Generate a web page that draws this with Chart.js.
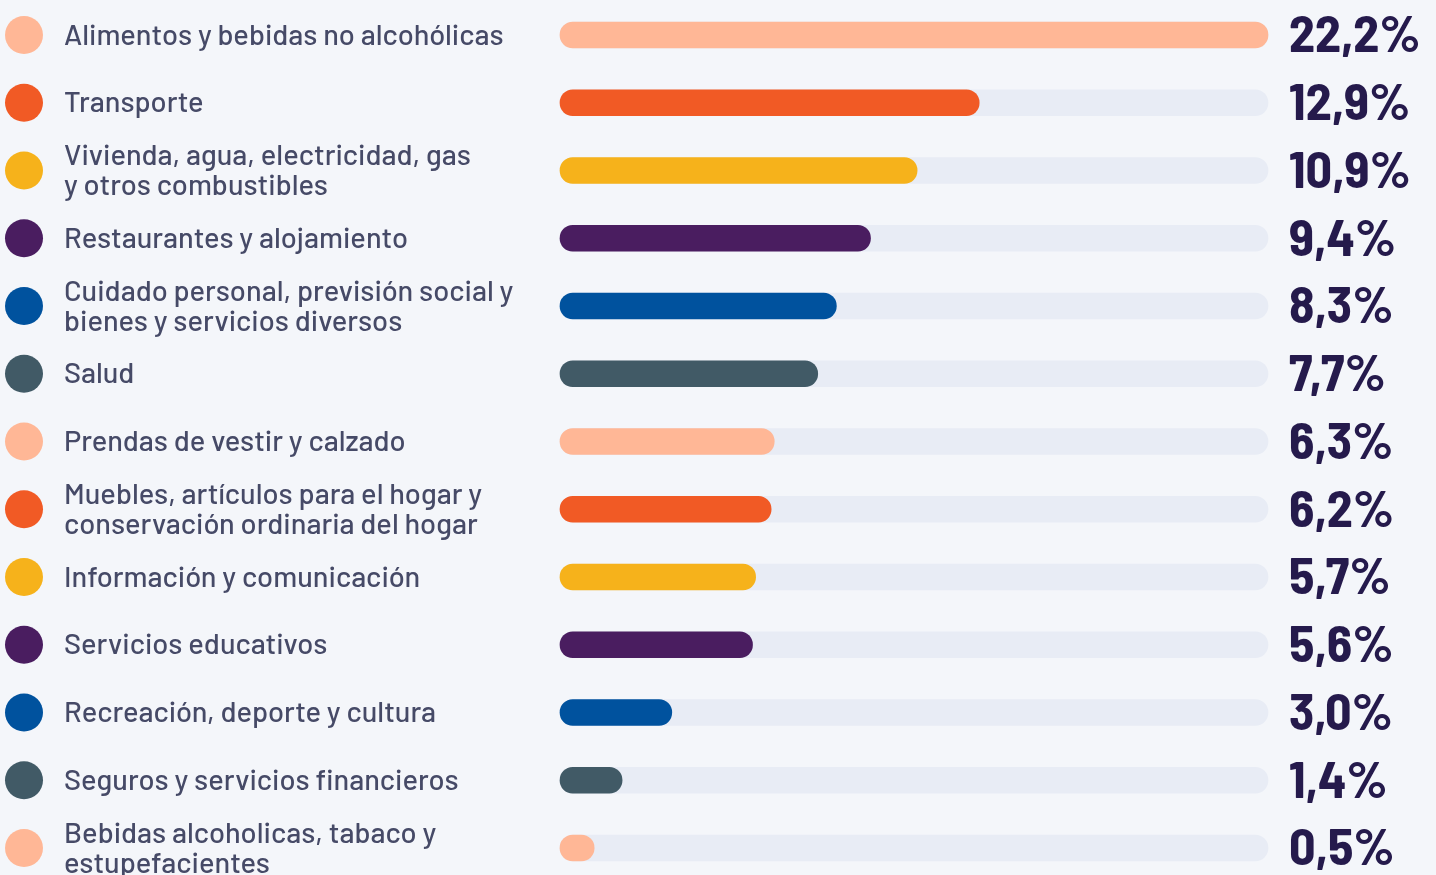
<!DOCTYPE html>
<html>
<head>
<meta charset="utf-8">
<script src="https://cdn.jsdelivr.net/npm/chart.js@4/dist/chart.umd.min.js"></script>
<style>
  html, body { margin: 0; padding: 0; background: #f4f6fa; }
  #wrap { width: 1436px; height: 875px; position: relative; }
</style>
</head>
<body>
<div id="wrap"><canvas id="c"></canvas></div>
<script>
const categories = [
  "Alimentos y bebidas no alcohólicas",
  "Transporte",
  ["Vivienda, agua, electricidad, gas", "y otros combustibles"],
  "Restaurantes y alojamiento",
  ["Cuidado personal, previsión social y", "bienes y servicios diversos"],
  "Salud",
  "Prendas de vestir y calzado",
  ["Muebles, artículos para el hogar y", "conservación ordinaria del hogar"],
  "Información y comunicación",
  "Servicios educativos",
  "Recreación, deporte y cultura",
  "Seguros y servicios financieros",
  ["Bebidas alcoholicas, tabaco y", "estupefacientes"]
];
const shares = [22.2, 12.9, 10.9, 9.4, 8.3, 7.7, 6.3, 6.2, 5.7, 5.6, 3.0, 1.4, 0.5];
const palette = ["#ffb796", "#f15a25", "#f6b21b", "#4a1d60", "#00529e", "#415a66"];
const trackMax = 22.2;
const axisMin = -0.6;

const barColors = shares.map((_, i) => palette[i % palette.length]);
const valueLabels = shares.map(v => v.toFixed(1).replace('.', ',') + '%');
const trackValues = shares.map(() => trackMax);

const LABEL_FONT = "'Barlow', 'Roboto', sans-serif";
const VALUE_FONT = "'Barlow Semi Condensed', 'Roboto Condensed', 'Liberation Sans Narrow', 'DejaVu Sans Condensed', 'Roboto', sans-serif";

const decorPlugin = {
  id: 'decor',
  afterDatasetsDraw(chart) {
    const ctx = chart.ctx;
    const y = chart.scales.y;
    const area = chart.chartArea;
    ctx.save();
    categories.forEach((c, i) => {
      const py = y.getPixelForValue(i);
      ctx.beginPath();
      ctx.arc(24, py, 19, 0, Math.PI * 2);
      ctx.fillStyle = barColors[i];
      ctx.fill();
      ctx.fillStyle = '#251a4c';
      ctx.font = "700 52px " + VALUE_FONT;
      ctx.textAlign = 'left';
      ctx.textBaseline = 'middle';
      ctx.fillText(valueLabels[i], area.right + 21, py);
    });
    ctx.restore();
  }
};

new Chart(document.getElementById('c'), {
  type: 'bar',
  data: {
    labels: categories,
    datasets: [
      {
        data: shares,
        backgroundColor: barColors,
        base: axisMin,
        barThickness: 26,
        borderRadius: 13,
        borderSkipped: false,
        grouped: false,
        clip: false,
        order: 1
      },
      {
        data: trackValues,
        backgroundColor: '#e8ecf5',
        base: axisMin,
        barThickness: 26,
        borderRadius: 13,
        borderSkipped: false,
        grouped: false,
        clip: false,
        order: 2
      }
    ]
  },
  options: {
    indexAxis: 'y',
    responsive: true,
    maintainAspectRatio: false,
    animation: false,
    layout: { padding: { left: 64, right: 168, top: 35, bottom: 27 } },
    plugins: { legend: { display: false }, tooltip: { enabled: false } },
    scales: {
      x: { display: false, min: axisMin, max: trackMax },
      y: {
        offset: false,
        grid: { display: false, drawTicks: false },
        border: { display: false },
        afterFit(scale) { scale.width = 496; },
        ticks: {
          crossAlign: 'far',
          padding: 0,
          color: '#464a67',
          font: { family: LABEL_FONT, size: 29, weight: 500, lineHeight: 1.04 }
        }
      }
    }
  },
  plugins: [decorPlugin]
});
</script>
</body>
</html>
